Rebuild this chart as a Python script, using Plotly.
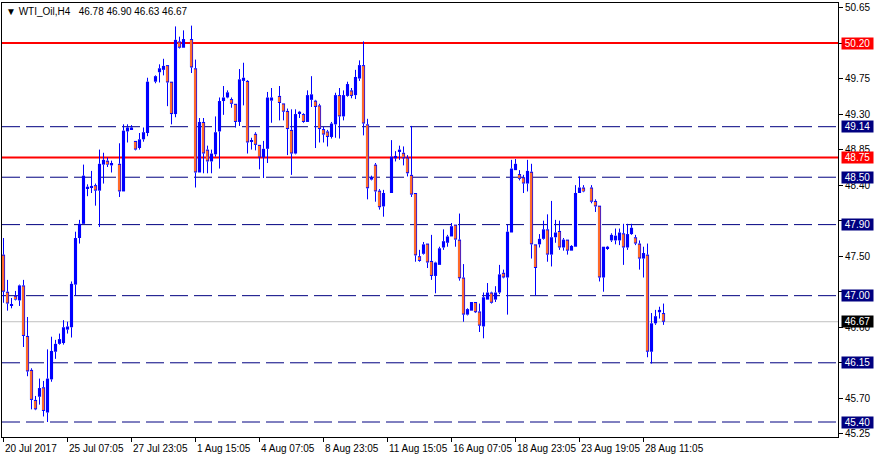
import plotly.graph_objects as go

symbol_title = "\u25bc WTI_Oil,H4\u00a0\u00a0 46.78 46.90 46.63 46.67"

# H4 candles, index 0 = 20 Jul 2017 (None = bar not drawn)
opens = [47.52, 47.05, 46.87, 47.00, 46.94, 47.13, 46.49, 46.06, 45.68, 45.72,
         45.84, 45.52, 45.94, 46.29, 46.39, 46.40, 46.57, 46.60, 47.14, 47.73,
         47.91, 48.36, 48.37, 48.40, 48.33, 48.66, 48.71, 48.65, None, 48.67,
         48.32, 49.08, 49.11, 48.96, 48.87, 48.98, 49.06, None, 49.71, 49.83,
         49.86, 49.92, 49.71, 49.30, 50.22, 50.14, None, 50.25, 49.88, 48.56,
         49.20, 48.85, 48.70, 48.79, 49.08, 49.465, 49.51, 49.49, 49.43, 49.20,
         49.72, 49.72, 48.95, 49.05, 48.91, 48.75, 48.86, 49.47, None, 49.53,
         49.435, 49.34, 49.10, 48.80, 49.31, 49.30, 49.20, 49.48, 49.47, 49.41,
         49.11, 49.08, 49.01, 49.17, 49.54, 49.27, 49.53, 49.60, 49.54, 49.75,
         49.92, 49.17, 48.47, 48.66, 48.33, 48.13, None, 48.30, 48.74, 48.82,
         48.81, 48.75, 48.53, 48.30, 47.50, 47.53, 47.66, 47.44, 47.25, 47.39,
         47.61, 47.67, 47.75, 47.90, 47.71, 47.23, 46.76, 46.81, 46.92, 46.80,
         46.61, 46.95, 47.04, 46.95, 47.04, 47.29, 47.23, 47.80, 48.59, 48.54,
         48.50, 48.42, 48.57, 47.65, 47.65, 47.72, 47.84, 47.52, 47.74, 47.82,
         47.61, 47.71, 47.57, 47.62, 48.30, 48.37, None, 48.37, 48.20, 48.14,
         47.23, 47.60, 47.70, 47.70, 47.70, 47.79, 47.61, 47.78, 47.74, 47.66,
         47.47, 47.52, 46.29, 46.65, 46.79, 46.78]
highs = [47.73, 47.20, 46.97, 47.06, 47.14, 47.20, 46.73, 46.08, 45.73, 45.95,
         45.92, 46.32, 46.48, 46.44, 46.52, 46.69, 46.67, 47.18, 47.81, 47.96,
         48.66, 48.41, 48.58, 48.42, 48.85, 48.81, 48.75, 48.71, None, 48.93,
         49.17, 49.17, 49.16, 48.96, 49.06, 49.13, 49.76, None, 49.79, 49.93,
         50.00, 49.92, 49.71, 50.41, 50.28, 50.36, None, 50.42, 49.99, 49.25,
         49.25, 48.90, 48.85, 49.27, 49.51, 49.655, 49.60, 49.51, 49.43, 49.87,
         49.95, 49.73, 49.00, 49.07, 48.91, 48.96, 49.58, 49.63, None, 49.655,
         49.435, 49.37, 49.36, 49.36, 49.34, 49.31, 49.60, 49.78, 49.48, 49.43,
         49.14, 49.10, 49.20, 49.57, 49.63, 49.60, 49.71, 49.63, 49.86, 49.98,
         50.22, 49.24, 48.52, 48.68, 48.35, 48.34, None, 48.97, 48.83, 48.90,
         48.89, 48.78, 49.15, 48.30, 47.58, 47.68, 47.66, 47.77, 47.43, 47.62,
         47.84, 47.77, 47.92, 47.90, 48.04, 47.40, 46.84, 46.92, 46.92, 46.90,
         47.04, 47.16, 47.05, 47.12, 47.39, 47.33, 47.90, 48.72, 48.73, 48.59,
         48.53, 48.72, 48.67, 47.65, 47.78, 47.95, 48.03, 48.20, 47.96, 47.95,
         47.73, 47.71, 47.64, 48.40, 48.51, 48.40, None, 48.40, 48.22, 48.14,
         47.62, 47.63, 47.79, 47.85, 47.85, 47.91, 47.91, 47.91, 47.77, 47.70,
         47.62, 47.66, 46.78, 46.82, 46.86, 46.90]
lows = [46.91, 46.81, 46.84, 46.94, 46.87, 46.35, 45.98, 45.56, 45.55, 45.62,
        45.47, 45.40, 45.91, 46.20, 46.38, 46.38, 46.52, 46.47, 47.00, 47.66,
        47.91, 48.26, 48.30, 48.14, 47.87, 48.42, 48.63, 48.56, None, 48.25,
        48.32, 48.94, 49.10, 48.84, 48.85, 48.95, 49.02, None, 49.69, 49.70,
        49.79, 49.40, 49.17, 49.26, 50.13, 50.14, None, 49.82, 48.37, 48.56,
        48.55, 48.55, 48.55, 48.76, 48.61, 49.29, 49.50, 49.38, 49.13, 49.15,
        49.41, 48.80, 48.85, 48.84, 48.60, 48.49, 48.68, 49.19, None, 49.22,
        49.22, 48.78, 48.53, 48.79, 49.25, 49.19, 49.20, 49.39, 48.87, 48.94,
        48.94, 48.89, 48.99, 49.00, 48.99, 49.22, 49.52, 49.50, 49.49, 49.72,
        49.03, 48.22, 48.46, 48.19, 48.09, 48.00, None, 48.30, 48.70, 48.72,
        48.65, 48.51, 48.25, 47.43, 47.43, 47.52, 47.35, 47.20, 47.03, 47.39,
        47.58, 47.62, 47.75, 47.62, 47.19, 46.67, 46.75, 46.81, 46.78, 46.54,
        46.46, 46.95, 46.90, 46.92, 47.02, 47.22, 46.76, 47.80, 48.59, 48.46,
        48.30, 48.32, 47.47, 47.00, 47.61, 47.71, 47.43, 47.37, 47.67, 47.58,
        47.57, 47.52, 47.57, 47.62, 48.30, 48.31, None, 48.17, 48.06, 47.18,
        47.05, 47.58, 47.68, 47.65, 47.64, 47.39, 47.58, 47.77, 47.64, 47.33,
        47.23, 46.22, 46.14, 46.63, 46.71, 46.63]
closes = [47.05, 46.90, 46.89, 46.95, 47.13, 46.49, 46.04, 45.68, 45.56, 45.83,
          45.54, 45.95, 46.30, 46.39, 46.45, 46.60, 46.61, 47.15, 47.73, 47.91,
          48.52, 48.38, 48.39, 48.33, 48.67, 48.72, 48.66, 48.68, None, 48.32,
          49.09, 49.13, 49.13, 48.85, 48.98, 49.07, 49.71, None, 49.78, 49.88,
          49.91, 49.70, 49.30, 50.24, 50.14, 50.25, None, 49.89, 48.56, 49.20,
          48.80, 48.70, 48.80, 49.07, 49.465, 49.51, 49.575, 49.43, 49.20, 49.74,
          49.76, 48.94, 48.97, 48.91, 48.75, 48.86, 49.51, 49.51, None, 49.44,
          49.33, 49.11, 48.80, 49.30, 49.33, 49.20, 49.54, 49.55, 49.39, 49.11,
          49.04, 49.01, 49.18, 49.54, 49.27, 49.54, 49.68, 49.53, 49.77, 49.92,
          49.18, 48.36, 48.50, 48.32, 48.12, 48.30, None, 48.76, 48.77, 48.85,
          48.74, 48.55, 48.28, 47.51, 47.44, 47.65, 47.42, 47.25, 47.42, 47.60,
          47.69, 47.75, 47.88, 47.71, 47.22, 46.76, 46.83, 46.92, 46.79, 46.62,
          46.98, 47.04, 46.91, 47.04, 47.27, 47.23, 47.81, 48.61, 48.67, 48.48,
          48.42, 48.58, 47.65, 47.35, 47.72, 47.84, 47.52, 47.74, 47.80, 47.61,
          47.71, 47.57, 47.63, 48.30, 48.37, 48.32, None, 48.19, 48.13, 47.23,
          47.62, 47.62, 47.77, 47.76, 47.80, 47.61, 47.78, 47.86, 47.66, 47.47,
          47.54, 46.29, 46.65, 46.74, 46.82, 46.67]

date_labels = ["20 Jul 2017", "25 Jul 07:05", "27 Jul 23:05", "1 Aug 15:05",
               "4 Aug 07:05", "8 Aug 23:05", "11 Aug 15:05", "16 Aug 07:05",
               "18 Aug 23:05", "23 Aug 19:05", "28 Aug 11:05"]
date_label_bars = [0, 16, 32, 48, 64, 80, 96, 112, 128, 144, 160]

price_ticks = [45.25, 45.70, 46.15, 46.60, 47.05, 47.50, 47.95, 48.40,
               48.85, 49.30, 49.75, 50.20, 50.65]
resistance_levels = [50.20, 48.75]
support_levels = [49.14, 48.50, 47.90, 47.00, 46.15, 45.40]
bid_level = 46.67

price_min, price_max = 45.2101, 50.7066
bar_min, bar_max = -0.375, 208.625

W, H = 879, 459
M_L, M_R, M_T, M_B = 2, 41, 3, 22
FONT = "Liberation Sans, Arial, sans-serif"
NAVY = "#000080"
BLUE = "#0000ff"
BEAR_FILL = "#ff6a2a"

# one screen pixel expressed in price units (for the 1px body outline of bear candles)
px_price = (price_max - price_min) / (H - M_T - M_B)

idx = [i for i in range(len(opens)) if opens[i] is not None]
body_lo = [min(opens[i], closes[i]) for i in idx]
body_hi = [max(opens[i], closes[i]) for i in idx]
body_len = [hi - lo for lo, hi in zip(body_lo, body_hi)]

inner_x, inner_base, inner_len = [], [], []
for k, i in enumerate(idx):
    if closes[i] < opens[i] and body_len[k] > 2.2 * px_price:
        inner_x.append(i)
        inner_base.append(body_lo[k] + px_price)
        inner_len.append(body_len[k] - 2 * px_price)

wick_x, wick_y = [], []
for k, i in enumerate(idx):
    wick_x += [i, i, None, i, i, None]
    wick_y += [lows[i], body_lo[k], None, body_hi[k], highs[i], None]

fig = go.Figure()
fig.add_trace(go.Scatter(
    x=wick_x, y=wick_y, mode="lines",
    line=dict(color=BLUE, width=1), hoverinfo="skip", showlegend=False))
fig.add_trace(go.Bar(
    x=idx, y=body_len, base=body_lo, width=0.78,
    marker=dict(color=BLUE, line=dict(width=0)),
    hoverinfo="skip", showlegend=False))
fig.add_trace(go.Bar(
    x=inner_x, y=inner_len, base=inner_base, width=0.42,
    marker=dict(color=BEAR_FILL, line=dict(width=0)),
    hoverinfo="skip", showlegend=False))

shapes = []
for lv in support_levels:
    shapes.append(dict(type="line", xref="paper", x0=0, x1=1, yref="y", y0=lv, y1=lv,
                       line=dict(color=NAVY, width=1, dash="18px,6px"), layer="below"))
for lv in resistance_levels:
    shapes.append(dict(type="line", xref="paper", x0=0, x1=1, yref="y", y0=lv, y1=lv,
                       line=dict(color="#ff0000", width=2), layer="below"))
shapes.append(dict(type="line", xref="paper", x0=0, x1=1, yref="y", y0=bid_level, y1=bid_level,
                   line=dict(color="#c0c0c0", width=1), layer="below"))

annotations = []
def price_box(level, color):
    annotations.append(dict(
        x=1, xref="paper", xanchor="left", xshift=3,
        y=level, yref="y", yanchor="middle",
        text=f"{level:.2f}", showarrow=False,
        font=dict(family=FONT, size=10, color="white"),
        bgcolor=color, borderpad=0, width=31, height=11, align="center"))

for lv in support_levels:
    price_box(lv, NAVY)
for lv in resistance_levels:
    price_box(lv, "#ff0000")
price_box(bid_level, "#000000")

for b, lab in zip(date_label_bars, date_labels):
    annotations.append(dict(
        x=b, xref="x", xanchor="left", xshift=-1,
        y=0, yref="paper", yanchor="top", yshift=-4,
        text=lab, showarrow=False,
        font=dict(family=FONT, size=10, color="black")))

annotations.append(dict(
    x=0, xref="paper", xanchor="left", xshift=2,
    y=1, yref="paper", yanchor="top", yshift=-1,
    text=symbol_title, showarrow=False,
    font=dict(family=FONT, size=10, color="black")))

# tick labels that sit fully under a price box are not shown in the reference
covered = {46.15, 47.05, 47.95, 50.20}
tick_text = ["" if p in covered else f"{p:.2f}" for p in price_ticks]

fig.update_layout(
    width=W, height=H,
    margin=dict(l=M_L, r=M_R, t=M_T, b=M_B, pad=0, autoexpand=False),
    paper_bgcolor="white", plot_bgcolor="white",
    barmode="overlay",
    shapes=shapes, annotations=annotations,
    showlegend=False,
    xaxis=dict(range=[bar_min, bar_max],
               showgrid=False, zeroline=False, showline=True, mirror=True,
               linecolor="black", linewidth=1,
               ticks="outside", tickvals=date_label_bars, ticklen=4, tickcolor="black",
               showticklabels=False, fixedrange=True, automargin=False),
    yaxis=dict(range=[price_min, price_max], side="right",
               showgrid=False, zeroline=False, showline=True, mirror=True,
               linecolor="black", linewidth=1,
               ticks="outside", tickvals=price_ticks, ticktext=tick_text,
               ticklen=4, tickcolor="black", automargin=False,
               tickfont=dict(family=FONT, size=10, color="black"), fixedrange=True),
)

fig.write_html("out.html", config={"displayModeBar": False},
               post_script="document.body.style.margin='0';document.body.style.overflow='hidden';")
